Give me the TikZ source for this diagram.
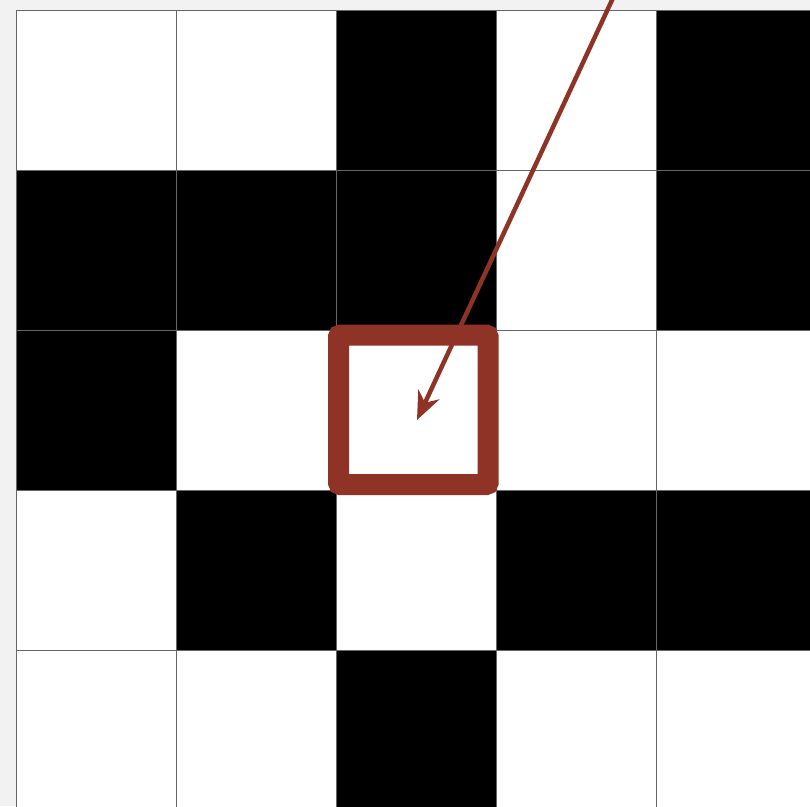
\documentclass[tikz,border=0pt]{standalone}
\usetikzlibrary{arrows.meta}
\definecolor{bgc}{HTML}{F2F2F2}
\definecolor{gridc}{HTML}{666666}
\definecolor{hl}{HTML}{8E3325}
\begin{document}
\begin{tikzpicture}[x=1pt,y=-1pt,
  cellw/.style={fill=white,draw=gridc,line width=1pt},
  cellb/.style={fill=black,draw=gridc,line width=0.6pt},
  hlbox/.style={draw=hl,line width=21pt,rounded corners=2pt,minimum width=149.5pt,minimum height=149.5pt,inner sep=0pt,fill=none},
  pointer/.style={draw=hl,line width=4.5pt,-{Stealth[length=28pt,width=23pt,inset=9pt]}}]
\useasboundingbox (0,0) rectangle (810,806);
\fill[bgc] (0,0) rectangle (810,806);
\clip (0,0) rectangle (810,806);
\def\pattern{{0,0,1,0,1},{1,1,1,0,1},{1,0,0,0,0},{0,1,0,1,1},{0,0,1,0,0}}
\foreach \r/\rowvals in {0/{0,0,1,0,1},1/{1,1,1,0,1},2/{1,0,0,0,0},3/{0,1,0,1,1},4/{0,0,1,0,0}}{
  \foreach \v [count=\c from 0] in \rowvals {
    \ifnum\v=1
      \draw[cellb] ({16+160*\c},{10+160*\r}) rectangle ++(160,160);
    \else
      \draw[cellw] ({16+160*\c},{10+160*\r}) rectangle ++(160,160);
    \fi
  }
}
\node[hlbox] (target) at (413.3,409.8) {};
\coordinate (start) at (616.7,-10);
\coordinate (tip) at (417,420);
\draw[pointer] (start) -- (tip);
\end{tikzpicture}
\end{document}
